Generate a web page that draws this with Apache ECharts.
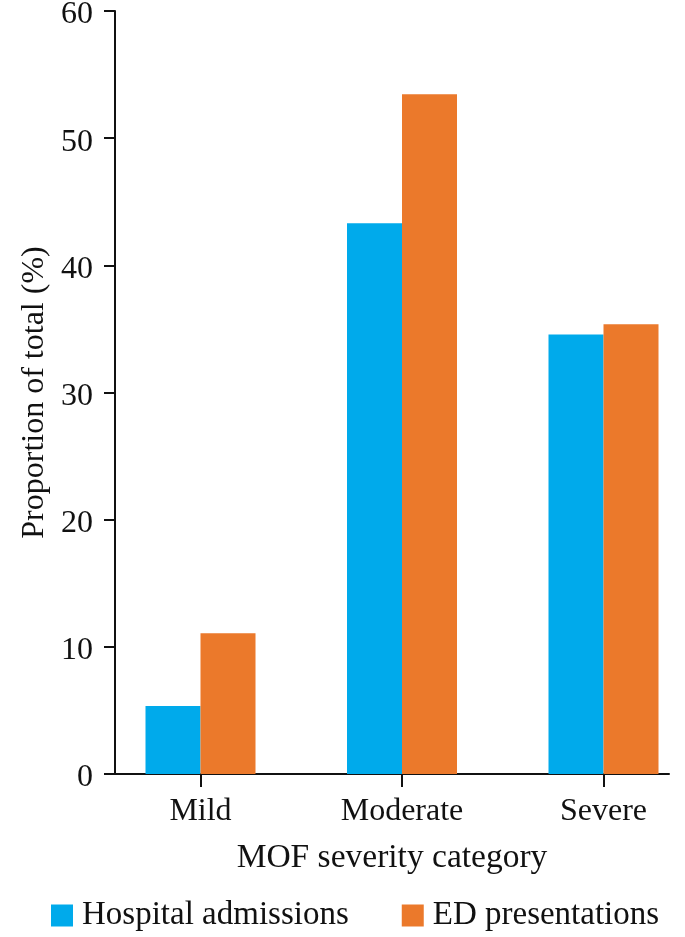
<!DOCTYPE html>
<html>
<head>
<meta charset="utf-8">
<script src="https://cdn.jsdelivr.net/npm/echarts@6/dist/echarts.min.js"></script>
<style>
html,body{margin:0;padding:0;background:#fff;}
#chart{width:685px;height:937px;}
</style>
</head>
<body>
<div id="chart"></div>
<script>
const categories = ['Mild', 'Moderate', 'Severe'];
const hospitalAdmissions = [5.35, 43.3, 34.57];
const edPresentations = [11.06, 53.45, 35.36];
const seriesNames = ['Hospital admissions', 'ED presentations'];
const yTicks = { min: 0, max: 60, interval: 10 };
const xAxisTitle = 'MOF severity category';
const yAxisTitle = 'Proportion of total (%)';

const FONT = 'Liberation Serif';
const TEXT = '#111';
const AXIS = '#111';
const BLUE = '#00aaeb';
const ORANGE = '#eb792b';

const chart = echarts.init(document.getElementById('chart'), null, { renderer: 'canvas' });
chart.setOption({
  backgroundColor: '#fff',
  animation: false,
  textStyle: { fontFamily: FONT, color: TEXT },
  legend: {
    left: 46,
    top: 894,
    itemWidth: 22,
    itemHeight: 22,
    itemGap: 53,
    icon: 'rect',
    textStyle: { fontFamily: FONT, fontSize: 33, color: TEXT, padding: [0, 0, 0, 4] },
    data: seriesNames
  },
  grid: [
    { left: 115, right: 16, top: 11, bottom: 163, outerBoundsMode: 'none', containLabel: false },
    { left: 99.75, right: -19.25, top: 11, bottom: 163, outerBoundsMode: 'none', containLabel: false }
  ],
  xAxis: [
    {
      gridIndex: 0,
      type: 'category',
      data: categories,
      axisLine: { show: true, lineStyle: { color: AXIS, width: 2 } },
      axisTick: { show: false },
      axisLabel: { show: false },
      name: xAxisTitle,
      nameLocation: 'middle',
      nameGap: 67,
      nameTextStyle: { fontFamily: FONT, fontSize: 33.5, color: TEXT }
    },
    {
      gridIndex: 1,
      type: 'category',
      data: categories,
      axisLine: { show: false },
      axisTick: { show: true, alignWithLabel: true, length: 13, lineStyle: { color: AXIS, width: 2 } },
      axisLabel: { fontFamily: FONT, fontSize: 32, color: TEXT, margin: 22 }
    }
  ],
  yAxis: [
    {
      gridIndex: 0,
      type: 'value',
      min: yTicks.min,
      max: yTicks.max,
      interval: yTicks.interval,
      axisLine: { show: true, lineStyle: { color: AXIS, width: 2 } },
      axisTick: { show: true, length: 11, lineStyle: { color: AXIS, width: 2 } },
      axisLabel: { fontFamily: FONT, fontSize: 32, color: TEXT, margin: 22, verticalAlign: 'top', lineHeight: 8 },
      splitLine: { show: false },
      name: yAxisTitle,
      nameLocation: 'middle',
      nameGap: 50,
      nameTextStyle: { fontFamily: FONT, fontSize: 32, color: TEXT }
    },
    {
      gridIndex: 1,
      type: 'value',
      min: yTicks.min,
      max: yTicks.max,
      interval: yTicks.interval,
      show: false
    }
  ],
  series: [
    {
      name: seriesNames[0],
      type: 'bar',
      xAxisIndex: 1,
      yAxisIndex: 1,
      data: hospitalAdmissions,
      barWidth: 55,
      barGap: '0%',
      itemStyle: { color: BLUE }
    },
    {
      name: seriesNames[1],
      type: 'bar',
      xAxisIndex: 1,
      yAxisIndex: 1,
      data: edPresentations,
      barWidth: 55,
      barGap: '0%',
      itemStyle: { color: ORANGE }
    }
  ]
});
</script>
</body>
</html>
